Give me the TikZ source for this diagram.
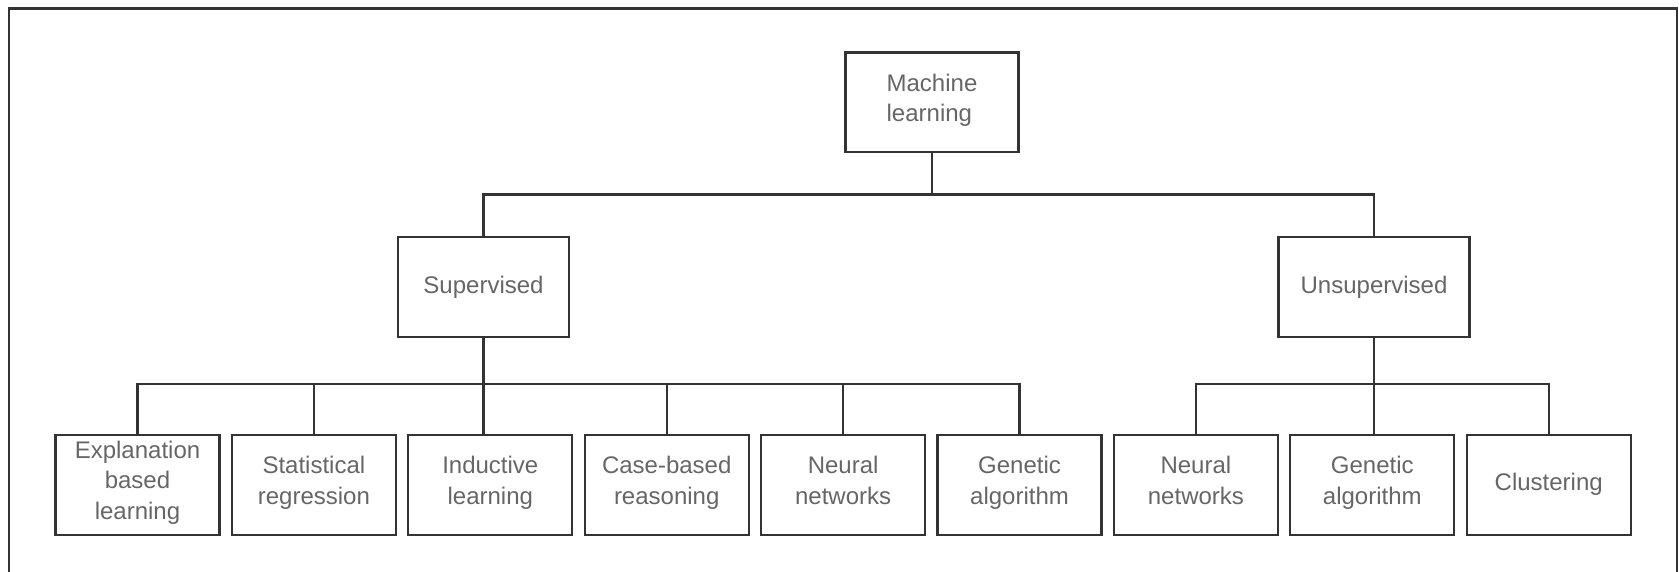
\documentclass[tikz,border=0pt]{standalone}
\usepackage{fontspec}
\setmainfont{Liberation Sans}
\usepackage{tikz}

\begin{document}
\begin{tikzpicture}
[x=0.5pt,y=-0.5pt]
\tikzset{
	box/.style = {rectangle, draw=black!80, line width=1.1pt, inner sep=0, text=black!60, align=center, font=\fontsize{12}{15.3}\selectfont, execute at begin node=\strut, execute at end node=\rule[-2.4pt]{0pt}{2.4pt}, minimum height=49.7pt},
	leaf/.style = {box, minimum width=82pt, minimum height=50pt},
	link/.style = {draw=black!80, line width=1.1pt}
}
\useasboundingbox (0,0) rectangle (1679,572);
\draw [link] (9,572) |- (1677,8.5) -- (1677,572);

\node(ml) [box, minimum width=86.5pt, align=left] at (932,102.3) {Machine\\learning};
\node(sup) [box, minimum width=85.5pt] at (483.5,287) {Supervised};
\node(unsup) [box, minimum width=95.5pt] at (1374,287) {Unsupervised};

\foreach \i/\txt in {1/{Explanation\\based\\learning}, 2/{Statistical\\regression}, 3/{Inductive\\learning},
	4/{Case-based\\reasoning}, 5/{Neural\\networks}, 6/{Genetic\\algorithm},
	7/{Neural\\networks}, 8/{Genetic\\algorithm}, 9/{Clustering}}
	\node(l\i) [leaf] at ({137.5+(\i-1)*176.4},484.7) {\txt};

\coordinate (bus1) at (0,194.5);
\coordinate (bus2) at (0,384);

\draw [link] (ml.south) -- (ml.south |- bus1) -| (sup.north);
\draw [link] (ml.south |- bus1) -| (unsup.north);
\draw [link] (sup.south) -- (sup.south |- l3.north);
\foreach \i in {1,2,4,5,6}
	\draw [link] (sup.south |- bus2) -| (l\i.north);
\draw [link] (unsup.south) -- (unsup.south |- l8.north);
\foreach \i in {7,9}
	\draw [link] (unsup.south |- bus2) -| (l\i.north);
\end{tikzpicture}
\end{document}
